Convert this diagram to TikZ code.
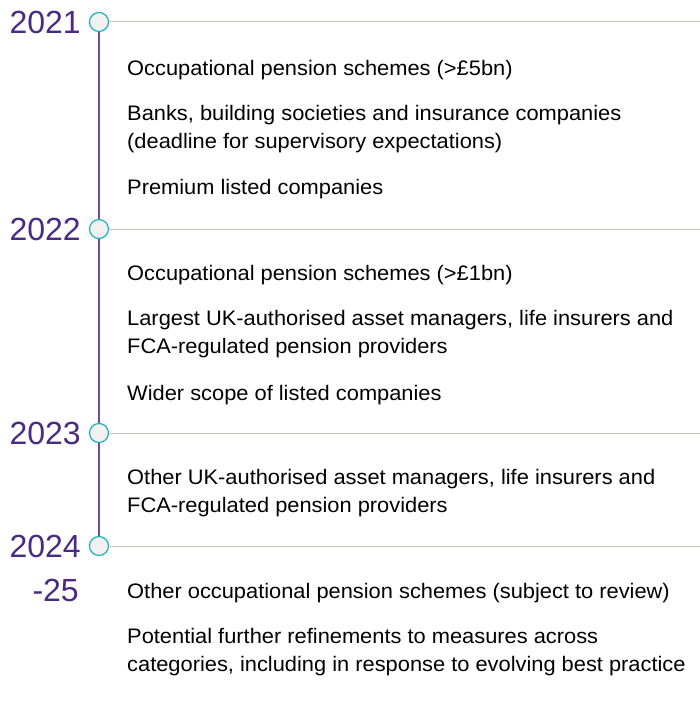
\documentclass[tikz,border=0pt]{standalone}
\usepackage{fontspec}
\setmainfont{Liberation Sans}
\newfontfamily\itemfont[FakeStretch=1.04]{Liberation Sans}
\definecolor{yearc}{HTML}{4A2A82}
\definecolor{ringc}{HTML}{1CB2C2}
\definecolor{dotfill}{HTML}{F2F1EF}
\definecolor{rulec}{HTML}{C9C6BF}
\definecolor{linec}{HTML}{6A4F9E}
\begin{document}
\begin{tikzpicture}[x=1pt,y=-1pt,
  year/.style={anchor=base east,inner sep=0pt,text=yearc,font=\fontsize{32}{32}\selectfont},
  item/.style={anchor=base west,inner sep=0pt,font=\itemfont\fontsize{21}{28}\selectfont},
  dot/.style={circle,draw=ringc,fill=dotfill,line width=1.2pt,minimum size=19pt,inner sep=0pt},
  hrule/.style={draw=rulec,line width=1pt},
  vline/.style={draw=linec,line width=1.1pt}]
\useasboundingbox (0,0) rectangle (700,701);
\coordinate (e1) at (700,22);
\coordinate (e2) at (700,229);
\coordinate (e3) at (700,433);
\coordinate (e4) at (700,546);
\node[dot] (d1) at (99,22) {};
\node[dot] (d2) at (99,229) {};
\node[dot] (d3) at (99,433) {};
\node[dot] (d4) at (99,546) {};
\draw[vline] (d1.south) -- (d2.north);
\draw[vline] (d2.south) -- (d3.north);
\draw[vline] (d3.south) -- (d4.north);
\draw[hrule] (d1.east) -- (e1);
\draw[hrule] (d2.east) -- (e2);
\draw[hrule] (d3.east) -- (e3);
\draw[hrule] (d4.east) -- (e4);
\node[year] (y1) at (81,33.5) {2021};
\node[year] (y2) at (81,240) {2022};
\node[year] (y3) at (81,444) {2023};
\node[year] (y4) at (81,557) {2024};
\node[year] (y5) at (79,601) {-25};
\node[item] (t1) at (127,75) {Occupational pension schemes (>£5bn)};
\node[item] (t2) at (127,120) {Banks, building societies and insurance companies};
\node[item] (t3) at (127,148) {(deadline for supervisory expectations)};
\node[item] (t4) at (127,194) {Premium listed companies};
\node[item] (t5) at (127,280) {Occupational pension schemes (>£1bn)};
\node[item] (t6) at (127,325) {Largest UK-authorised asset managers, life insurers and};
\node[item] (t7) at (127,353) {FCA-regulated pension providers};
\node[item] (t8) at (127,400) {Wider scope of listed companies};
\node[item] (t9) at (127,484) {Other UK-authorised asset managers, life insurers and};
\node[item] (t10) at (127,512) {FCA-regulated pension providers};
\node[item] (t11) at (127,598) {Other occupational pension schemes (subject to review)};
\node[item] (t12) at (127,643) {Potential further refinements to measures across};
\node[item] (t13) at (127,671) {categories, including in response to evolving best practice};
\end{tikzpicture}
\end{document}
